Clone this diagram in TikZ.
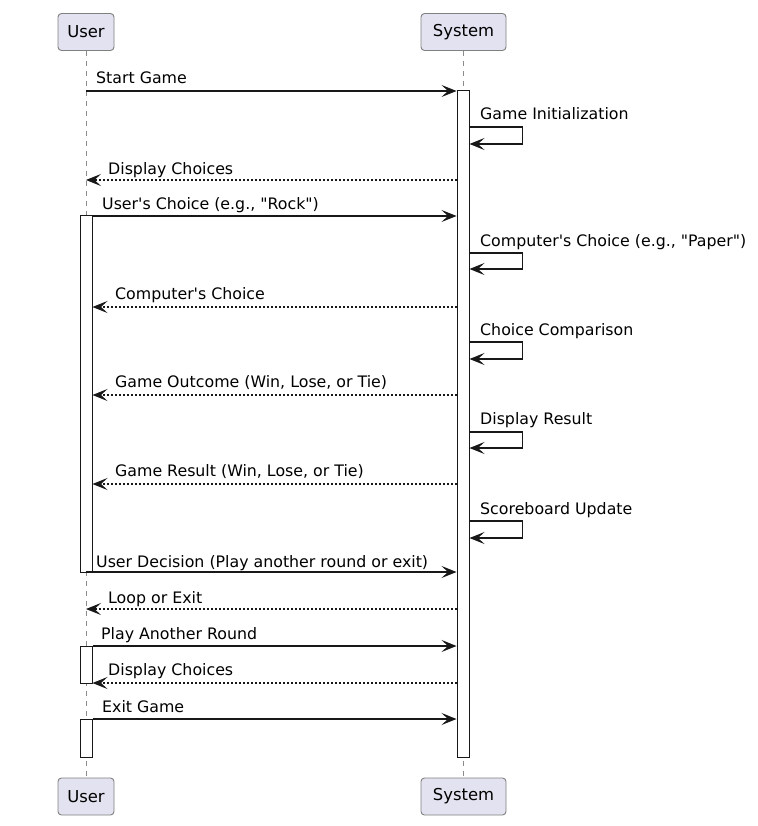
\documentclass[tikz,border=0pt]{standalone}
\usepackage{fontspec}
\newfontfamily\puf{DejaVu Sans}
\usetikzlibrary{arrows.meta}
\definecolor{pfill}{HTML}{E2E2F0}
\definecolor{ink}{HTML}{181818}
\begin{document}
\begin{tikzpicture}[x=1pt,y=-1pt,
  part/.style={draw=ink!55, fill=pfill, rounded corners=3.5pt, line width=0.9pt,
    minimum height=37pt, inner sep=0pt, font=\puf\fontsize{16.4}{18}\selectfont},
  life/.style={draw=ink!50, line width=0.6pt, dash pattern=on 5pt off 5pt},
  act/.style={draw=ink, fill=white, line width=1pt, minimum width=12pt, inner sep=0pt},
  msg/.style={draw=ink, line width=1.1pt, -{Stealth[length=15pt,width=12pt,inset=6.5pt]}},
  ret/.style={msg, dash pattern=on 2pt off 2pt},
  lbl/.style={anchor=base west, inner sep=0pt, font=\puf\fontsize{15.8}{18}\selectfont}]
\useasboundingbox[fill=white] (0,0) rectangle (757,826);
% participants
\node[part, minimum width=56pt] (ut) at (86,32) {User};
\node[part, minimum width=85pt] (st) at (463.5,32) {System};
\node[part, minimum width=56pt] (ub) at (86,796.5) {User};
\node[part, minimum width=85pt] (sb) at (463.5,796.5) {System};
% lifelines
\draw[life] (ut.south) -- (ub.north);
\draw[life] (st.south) -- (sb.north);
% activations
\node[act, minimum height=666pt] (sa) at (463,424) {};
\node[act, minimum height=356pt] (ua1) at (86,394) {};
\node[act, minimum height=37pt] (ua2) at (86,664.5) {};
\node[act, minimum height=38pt] (ua3) at (86,738) {};
% messages
\draw[msg] (ut.center |- 0,91) -- (sa.west |- 0,91);
\node[lbl] (m1) at (96,83.5) {Start Game};
\draw[msg] (sa.east |- 0,127) -- ++(53,0) -- ++(0,17) -- (sa.east |- 0,144);
\node[lbl] (m2) at (480,120) {Game Initialization};
\draw[ret] (sa.west |- 0,180) -- (ut.center |- 0,180);
\node[lbl] (m3) at (108,174.5) {Display Choices};
\draw[msg] (ua1.east |- 0,216) -- (sa.west |- 0,216);
\node[lbl] (m4) at (102,210) {User's Choice (e.g., "Rock")};
\draw[msg] (sa.east |- 0,253) -- ++(53,0) -- ++(0,16) -- (sa.east |- 0,269);
\node[lbl] (m5) at (480,246) {Computer's Choice (e.g., "Paper")};
\draw[ret] (sa.west |- 0,307) -- (ua1.east |- 0,307);
\node[lbl] (m6) at (115,299.5) {Computer's Choice};
\draw[msg] (sa.east |- 0,342) -- ++(53,0) -- ++(0,17) -- (sa.east |- 0,359);
\node[lbl] (m7) at (480,335) {Choice Comparison};
\draw[ret] (sa.west |- 0,395) -- (ua1.east |- 0,395);
\node[lbl] (m8) at (115,387.5) {Game Outcome (Win, Lose, or Tie)};
\draw[msg] (sa.east |- 0,432) -- ++(53,0) -- ++(0,16) -- (sa.east |- 0,448);
\node[lbl] (m9) at (480,424.5) {Display Result};
\draw[ret] (sa.west |- 0,484) -- (ua1.east |- 0,484);
\node[lbl] (m10) at (115,476.5) {Game Result (Win, Lose, or Tie)};
\draw[msg] (sa.east |- 0,521) -- ++(53,0) -- ++(0,17) -- (sa.east |- 0,538);
\node[lbl] (m11) at (480,514) {Scoreboard Update};
\draw[msg] (ut.center |- 0,572) -- (sa.west |- 0,572);
\node[lbl] (m12) at (96,567) {User Decision (Play another round or exit)};
\draw[ret] (sa.west |- 0,609) -- (ut.center |- 0,609);
\node[lbl] (m13) at (108,603) {Loop or Exit};
\draw[msg] (ua2.east |- 0,646) -- (sa.west |- 0,646);
\node[lbl] (m14) at (101,639) {Play Another Round};
\draw[ret] (sa.west |- 0,683) -- (ua2.east |- 0,683);
\node[lbl] (m15) at (108,675.5) {Display Choices};
\draw[msg] (ua3.east |- 0,719) -- (sa.west |- 0,719);
\node[lbl] (m16) at (102,712) {Exit Game};
\end{tikzpicture}
\end{document}
